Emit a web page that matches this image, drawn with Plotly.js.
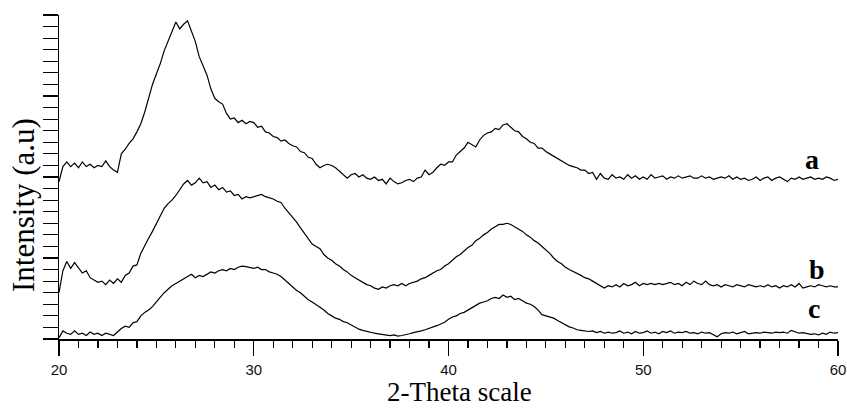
<!DOCTYPE html>
<html>
<head>
<meta charset="utf-8">
<script src="https://cdn.plot.ly/plotly-3.0.1.min.js"></script>
<style>
html,body{margin:0;padding:0;background:#fff;}
#chart{width:847px;height:409px;}
</style>
</head>
<body>
<div id="chart"></div>
<script>
// 2-Theta sampling: start 20, step 0.2 (201 points per pattern)
var twoThetaStart = 20;
var twoThetaStep = 0.2;

var seriesNames = ["a", "b", "c"];

var intensityA = [
13.6,14.9,15.3,14.9,15.2,14.8,15.3,14.9,15.1,14.8,
15.0,14.9,15.4,14.9,14.6,14.4,16.0,16.4,16.9,17.3,
17.9,18.6,19.6,20.9,22.0,22.9,23.8,24.9,25.7,26.6,
27.4,26.8,27.2,27.5,26.5,25.7,24.4,23.6,22.8,21.6,
20.8,20.5,20.3,19.5,19.0,19.1,18.7,18.9,18.6,18.8,
18.7,18.3,18.4,17.9,17.8,17.5,17.4,17.1,17.2,16.9,
16.7,16.6,16.2,16.1,15.7,15.6,15.1,14.8,15.0,15.1,
15.0,14.8,14.5,14.2,13.9,14.2,14.3,14.0,14.2,13.9,
13.8,14.0,13.7,13.8,13.4,13.9,13.6,13.4,13.5,13.7,
13.8,13.6,13.9,14.0,14.6,14.2,14.4,14.8,15.1,15.0,
15.3,15.3,15.9,16.2,16.5,17.0,16.8,16.6,17.2,17.6,
17.8,17.9,18.2,18.1,18.5,18.6,18.3,18.0,17.9,17.5,
17.3,17.0,16.9,16.5,16.5,16.2,16.0,15.8,15.6,15.4,
15.2,15.0,14.9,14.8,14.6,14.6,14.3,14.4,13.8,14.3,
13.9,13.8,14.2,13.9,14.0,13.8,14.2,13.9,14.1,13.8,
14.0,13.8,14.2,13.9,14.0,14.1,13.8,14.0,13.9,14.1,
13.9,14.0,14.1,13.9,13.9,14.1,13.9,14.0,13.8,13.9,
14.0,13.9,14.1,13.8,14.0,13.8,13.9,13.7,13.8,14.0,
13.7,13.9,14.0,13.7,13.9,14.0,13.8,13.6,13.9,13.8,
14.0,13.8,13.9,14.0,13.8,13.9,13.8,14.0,13.9,13.7,
13.8
];

var intensityB = [
4.0,5.9,6.7,6.1,6.6,6.2,5.7,5.9,5.3,5.1,
4.9,5.0,4.7,5.1,4.8,5.2,4.9,5.5,5.7,6.3,
6.4,7.4,8.1,8.7,9.3,10.0,10.6,11.3,11.7,12.0,
12.4,12.9,13.4,13.7,13.3,13.5,13.9,13.5,13.6,13.1,
13.3,12.9,13.1,12.7,12.8,12.4,12.5,12.1,12.3,12.2,
12.3,12.4,12.5,12.3,12.2,12.1,11.9,11.8,11.3,10.9,
10.6,10.1,9.6,9.1,8.6,8.2,8.0,7.8,7.3,7.0,
6.8,6.5,6.3,6.0,5.8,5.5,5.3,5.1,4.9,4.7,
4.6,4.4,4.3,4.5,4.4,4.6,4.7,4.6,4.8,4.6,
4.8,4.9,5.0,5.2,5.3,5.5,5.7,5.9,6.0,6.3,
6.5,6.8,7.1,7.3,7.6,7.9,8.1,8.5,8.7,9.0,
9.2,9.5,9.7,9.9,9.9,10.0,9.9,9.7,9.5,9.3,
9.0,8.8,8.5,8.3,8.0,7.7,7.4,7.0,6.7,6.5,
6.2,6.0,5.85,5.7,5.5,5.3,5.2,5.0,4.8,4.6,
4.4,4.6,4.5,4.7,4.5,4.8,4.6,4.7,4.9,4.6,
4.8,4.7,4.8,4.7,4.8,4.7,4.8,4.9,4.7,4.8,
4.6,4.9,4.7,5.0,4.8,4.7,5.0,4.7,4.6,4.7,
4.5,4.7,4.6,4.5,4.7,4.6,4.5,4.7,4.6,4.5,
4.6,4.5,4.7,4.5,4.6,4.4,4.6,4.5,4.7,4.5,
4.8,4.4,4.5,4.6,4.5,4.7,4.6,4.5,4.6,4.5,
4.5
];

var intensityC = [
0.1,0.7,0.5,0.4,0.7,0.4,0.5,0.3,0.6,0.4,
0.5,0.3,0.5,0.4,0.3,0.6,0.9,1.1,1.0,1.4,
1.5,2.0,2.3,2.5,2.8,3.2,3.6,4.0,4.3,4.6,
4.8,5.0,5.2,5.4,5.6,5.3,5.5,5.4,5.6,5.8,
5.7,5.9,6.0,5.9,6.1,6.0,6.2,6.3,6.25,6.2,
6.1,6.2,6.0,6.0,5.8,5.7,5.6,5.4,5.1,4.8,
4.5,4.2,4.0,3.7,3.4,3.2,3.0,2.75,2.5,2.2,
2.0,1.8,1.7,1.5,1.4,1.2,1.0,0.85,0.75,0.65,
0.55,0.5,0.45,0.4,0.4,0.3,0.35,0.25,0.3,0.35,
0.45,0.55,0.6,0.7,0.8,0.9,1.0,1.15,1.3,1.45,
1.7,1.9,2.0,2.2,2.3,2.5,2.7,2.9,3.1,3.2,
3.3,3.5,3.6,3.5,3.8,3.6,3.7,3.4,3.5,3.3,
3.1,3.0,2.8,2.5,2.1,2.0,1.9,1.8,1.6,1.4,
1.2,1.05,0.95,0.8,0.75,0.7,0.65,0.7,0.55,0.65,
0.5,0.6,0.5,0.55,0.7,0.5,0.6,0.45,0.65,0.5,
0.55,0.7,0.5,0.6,0.45,0.65,0.55,0.7,0.5,0.6,
0.55,0.65,0.5,0.55,0.45,0.6,0.5,0.55,0.4,0.2,
0.45,0.55,0.5,0.6,0.45,0.55,0.65,0.45,0.5,0.55,
0.5,0.6,0.55,0.5,0.6,0.55,0.6,0.5,0.75,0.6,
0.5,0.55,0.45,0.4,0.45,0.35,0.5,0.4,0.6,0.5,
0.55
];

var labelPositionsX = [58.65, 58.9, 58.77];
var labelPositionsY = [15.5, 6.0, 2.6];

var xMajorTicks = [20, 30, 40, 50, 60];
var xMidTicks = [25, 35, 45, 55];

var xTitleText = "2-Theta scale";
var yTitleText = "Intensity (a.u)";

var allSeries = [intensityA, intensityB, intensityC];

var traces = allSeries.map(function (ys, k) {
  return {
    type: "scatter",
    mode: "lines",
    name: seriesNames[k],
    x0: twoThetaStart,
    dx: twoThetaStep,
    y: ys,
    line: { color: "#000", width: 1.2 },
    hoverinfo: "skip"
  };
});

var serif = "Liberation Serif, Times New Roman, serif";

var annotations = seriesNames.map(function (n, k) {
  return {
    text: n,
    x: labelPositionsX[k],
    y: labelPositionsY[k],
    xref: "x",
    yref: "y",
    showarrow: false,
    xanchor: "center",
    yanchor: "middle",
    font: { family: serif, size: 28, color: "#000", weight: "bold" }
  };
});

annotations.push({
  text: xTitleText,
  xref: "paper", yref: "paper",
  x: 0.5135, y: -0.214,
  xanchor: "center", yanchor: "bottom",
  borderpad: 0,
  showarrow: false,
  font: { family: serif, size: 27, color: "#000" }
});
annotations.push({
  text: yTitleText,
  xref: "paper", yref: "paper",
  x: -0.0465, y: 0.413,
  xanchor: "center", yanchor: "middle",
  textangle: -90,
  showarrow: false,
  font: { family: serif, size: 31, color: "#000" }
});

var layout = {
  width: 847,
  height: 409,
  margin: { l: 59, r: 9, t: 15, b: 70, pad: 0 },
  paper_bgcolor: "#fff",
  plot_bgcolor: "#fff",
  showlegend: false,
  annotations: annotations,
  xaxis: {
    range: [20, 60],
    tickmode: "array",
    tickvals: xMajorTicks,
    ticktext: xMajorTicks.map(String),
    ticks: "outside",
    ticklen: 15,
    tickwidth: 1.3,
    tickcolor: "#000",
    ticklabelstandoff: 1,
    showline: true,
    linecolor: "#000",
    linewidth: 1.5,
    showgrid: false,
    zeroline: false,
    tickfont: { family: "Liberation Sans, Arial, sans-serif", size: 15, color: "#111" },
    minor: { dtick: 1, tick0: 20, ticks: "outside", ticklen: 7, tickwidth: 1.2, tickcolor: "#000", showgrid: false }
  },
  xaxis2: {
    overlaying: "x",
    anchor: "y",
    side: "bottom",
    range: [20, 60],
    tickmode: "array",
    tickvals: xMidTicks,
    ticks: "outside",
    ticklen: 12,
    tickwidth: 1.2,
    tickcolor: "#000",
    showticklabels: false,
    showline: false,
    showgrid: false,
    zeroline: false
  },
  yaxis: {
    range: [0, 28],
    tickmode: "linear",
    tick0: 0,
    dtick: 1,
    ticks: "outside",
    ticklen: 15,
    tickwidth: 1.2,
    tickcolor: "#000",
    showticklabels: false,
    showline: true,
    linecolor: "#000",
    linewidth: 1.5,
    showgrid: false,
    zeroline: false
  }
};

Plotly.newPlot("chart", traces, layout, { displayModeBar: false, staticPlot: true });
</script>
</body>
</html>
